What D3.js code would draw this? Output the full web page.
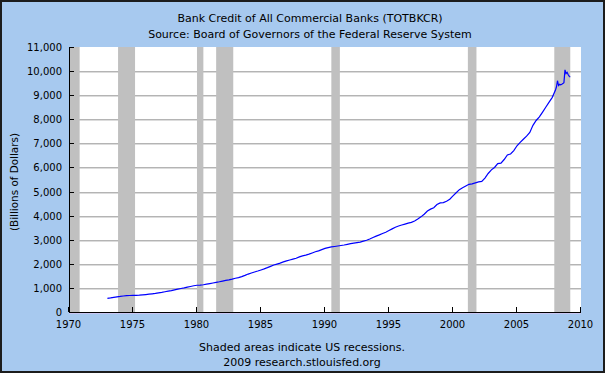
<!DOCTYPE html>
<html>
<head>
<meta charset="utf-8">
<script src="https://cdn.jsdelivr.net/npm/d3@7"></script>
<style>
  body { margin: 0; padding: 0; background: #fff; }
  svg { display: block; }
  text { font-family: "DejaVu Sans", Verdana, sans-serif; font-size: 10px; fill: #000; }
  text.big { font-size: 11px; }
</style>
</head>
<body>
<div id="vizContainer"></div>
<script>
// Bank Credit of All Commercial Banks (TOTBKCR), billions of dollars
const dates = [
  "1973-01","1973-04","1973-07","1973-10","1974-01","1974-04","1974-07","1974-10",
  "1975-01","1975-04","1975-07","1975-10","1976-01","1976-04","1976-07","1976-10",
  "1977-01","1977-04","1977-07","1977-10","1978-01","1978-04","1978-07","1978-10",
  "1979-01","1979-04","1979-07","1979-10","1980-01","1980-04","1980-07","1980-10",
  "1981-01","1981-04","1981-07","1981-10","1982-01","1982-04","1982-07","1982-10",
  "1983-01","1983-04","1983-07","1983-10","1984-01","1984-04","1984-07","1984-10",
  "1985-01","1985-04","1985-07","1985-10","1986-01","1986-04","1986-07","1986-10",
  "1987-01","1987-04","1987-07","1987-10","1988-01","1988-04","1988-07","1988-10",
  "1989-01","1989-04","1989-07","1989-10","1990-01","1990-04","1990-07","1990-10",
  "1991-01","1991-04","1991-07","1991-10","1992-01","1992-04","1992-07","1992-10",
  "1993-01","1993-04","1993-07","1993-10","1994-01","1994-04","1994-07","1994-10",
  "1995-01","1995-04","1995-07","1995-10","1996-01","1996-04","1996-07","1996-10",
  "1997-01","1997-04","1997-07","1997-10","1998-01","1998-04","1998-07","1998-10",
  "1999-01","1999-04","1999-07","1999-10","2000-01","2000-04","2000-07","2000-10",
  "2001-01","2001-04","2001-07","2001-10","2002-01","2002-04","2002-07","2002-10",
  "2003-01","2003-04","2003-07","2003-10","2004-01","2004-04","2004-07","2004-10",
  "2005-01","2005-04","2005-07","2005-10","2006-01","2006-04","2006-07","2006-10",
  "2007-01","2007-04","2007-07","2007-10",
  "2008-01","2008-02","2008-03","2008-04","2008-05","2008-06",
  "2008-07","2008-08","2008-09","2008-10","2008-11","2008-12",
  "2009-01","2009-02","2009-03"
];
const credit = [
  565, 585, 610, 630, 645, 665, 680, 685,
  690, 693, 700, 712, 725, 740, 755, 770,
  795, 815, 840, 865, 890, 920, 950, 975,
  1000, 1030, 1060, 1090, 1110, 1115, 1130, 1155,
  1180, 1205, 1230, 1255, 1285, 1310, 1335, 1365,
  1400, 1430, 1470, 1520, 1575, 1620, 1660, 1700,
  1745, 1790, 1840, 1895, 1950, 1990, 2030, 2080,
  2125, 2160, 2195, 2230, 2290, 2330, 2360, 2400,
  2450, 2500, 2540, 2590, 2640, 2670, 2700, 2720,
  2740, 2760, 2780, 2810, 2840, 2860, 2880, 2900,
  2940, 2980, 3030, 3090, 3150, 3200, 3260, 3310,
  3380, 3450, 3520, 3570, 3610, 3650, 3690, 3720,
  3780, 3860, 3950, 4060, 4190, 4270, 4330, 4460,
  4530, 4540, 4600, 4680, 4820, 4950, 5080, 5160,
  5230, 5300, 5320, 5360, 5400, 5420, 5560, 5750,
  5900, 6000, 6160, 6180, 6330, 6520, 6560, 6700,
  6900, 7040, 7170, 7300, 7450, 7750, 7950, 8100,
  8300, 8500, 8700, 8900,
  9200, 9350, 9600, 9400, 9450, 9430,
  9450, 9480, 9520, 10050, 9900, 9950,
  9850, 9780, 9750
];
const recessionStart = ["1969-12", "1973-11", "1980-01", "1981-07", "1990-07", "2001-03", "2007-12"];
const recessionEnd   = ["1970-11", "1975-03", "1980-07", "1982-11", "1991-03", "2001-11", "2009-03"];
const yTicks = [0, 1000, 2000, 3000, 4000, 5000, 6000, 7000, 8000, 9000, 10000, 11000];
const xTickYears = [1970, 1975, 1980, 1985, 1990, 1995, 2000, 2005, 2010];
const titleLines = ["Bank Credit of All Commercial Banks (TOTBKCR)", "Source: Board of Governors of the Federal Reserve System"];
const footerLines = ["Shaded areas indicate US recessions.", "2009 research.stlouisfed.org"];

const width = 605, height = 373;
const plot = { left: 69, right: 581, top: 47, bottom: 312 };
const parse = d3.timeParse("%Y-%m");

const svg = d3.select("#vizContainer").append("svg")
  .attr("width", width)
  .attr("height", height);

// background + frame
svg.append("rect")
  .attr("x", 1).attr("y", 1)
  .attr("width", width - 2).attr("height", height - 2)
  .attr("fill", "#a7c9ef")
  .attr("stroke", "#1c1c1c")
  .attr("stroke-width", 2);

const x = d3.scaleTime()
  .domain([new Date(1970, 0, 1), new Date(2010, 0, 1)])
  .range([plot.left, plot.right]);
const y = d3.scaleLinear()
  .domain([0, 11000])
  .range([plot.bottom, plot.top]);

svg.append("rect")
  .attr("x", plot.left).attr("y", plot.top)
  .attr("width", plot.right - plot.left).attr("height", plot.bottom - plot.top)
  .attr("fill", "#fff");

// grid lines (two tone)
const grid = svg.append("g");
yTicks.filter(v => v > 0 && v < 11000).forEach(v => {
  grid.append("line")
    .attr("x1", plot.left).attr("x2", plot.right)
    .attr("y1", Math.round(y(v)) + 0.5).attr("y2", Math.round(y(v)) + 0.5)
    .attr("stroke", "#b4b4b4");
  grid.append("line")
    .attr("x1", plot.left).attr("x2", plot.right)
    .attr("y1", Math.round(y(v)) + 1.5).attr("y2", Math.round(y(v)) + 1.5)
    .attr("stroke", "#dcdcdc");
});

// recession bars
const x0 = x.domain()[0];
svg.append("g").selectAll("rect")
  .data(recessionStart.map((s, i) => ({ s: parse(s), e: parse(recessionEnd[i]) })))
  .join("rect")
  .attr("x", d => x(d.s < x0 ? x0 : d.s))
  .attr("y", plot.top)
  .attr("width", d => x(d.e) - x(d.s < x0 ? x0 : d.s))
  .attr("height", plot.bottom - plot.top)
  .attr("fill", "#c0c0c0");

// series line
const series = dates.map((d, i) => ({ date: parse(d), value: credit[i] }));
svg.append("path")
  .datum(series)
  .attr("fill", "none")
  .attr("stroke", "#0000ff")
  .attr("stroke-width", 1.2)
  .attr("d", d3.line().x(d => x(d.date)).y(d => y(d.value)));

// axes
svg.append("line")
  .attr("x1", plot.left + 0.5).attr("x2", plot.left + 0.5)
  .attr("y1", plot.top).attr("y2", plot.bottom + 1)
  .attr("stroke", "#000");
svg.append("line")
  .attr("x1", plot.left).attr("x2", plot.right)
  .attr("y1", plot.bottom + 0.5).attr("y2", plot.bottom + 0.5)
  .attr("stroke", "#000");
svg.append("line")
  .attr("x1", plot.left).attr("x2", plot.right)
  .attr("y1", plot.bottom + 1.5).attr("y2", plot.bottom + 1.5)
  .attr("stroke", "#c9c6f2");

const yAxis = svg.append("g");
yTicks.forEach(v => {
  const yy = Math.round(y(v)) + 0.5;
  yAxis.append("line")
    .attr("x1", plot.left).attr("x2", plot.left + 5)
    .attr("y1", yy).attr("y2", yy)
    .attr("stroke", "#000");
  yAxis.append("text")
    .attr("x", plot.left - 7)
    .attr("y", yy)
    .attr("dy", "0.35em")
    .attr("text-anchor", "end")
    .text(d3.format(",")(v));
});

const xAxis = svg.append("g");
xTickYears.forEach(yr => {
  const xx = Math.round(x(new Date(yr, 0, 1))) - 0.5;
  xAxis.append("line")
    .attr("x1", xx).attr("x2", xx)
    .attr("y1", plot.bottom).attr("y2", plot.bottom - 5)
    .attr("stroke", "#000");
  xAxis.append("text")
    .attr("x", xx)
    .attr("y", 328)
    .attr("text-anchor", "middle")
    .text(yr);
});

// titles
titleLines.forEach((t, i) => {
  svg.append("text")
    .attr("class", "big")
    .attr("x", 310).attr("y", 22 + i * 16)
    .attr("text-anchor", "middle")
    .text(t);
});
footerLines.forEach((t, i) => {
  svg.append("text")
    .attr("class", "big")
    .attr("x", 302).attr("y", 351 + i * 15)
    .attr("text-anchor", "middle")
    .text(t);
});

svg.append("text")
  .attr("transform", "translate(18,182) rotate(-90)")
  .style("font-size", "10.4px")
  .attr("text-anchor", "middle")
  .text("(Billions of Dollars)");
</script>
</body>
</html>
